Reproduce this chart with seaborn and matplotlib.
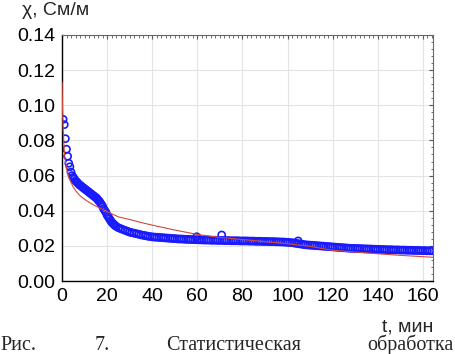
import numpy as np
import pandas as pd
import matplotlib
matplotlib.use("Agg")
import matplotlib.pyplot as plt
from matplotlib.ticker import AutoMinorLocator
import seaborn as sns

t_meas = [0.5, 1.0, 1.5, 2.0, 2.5, 3.0, 3.5, 4.0, 4.5, 5.0, 5.5, 6.0, 6.5, 7.0, 7.5,
          8.0, 8.5, 9.0, 9.5, 10.0, 10.5, 11.0, 11.5, 12.0, 12.5, 13.0, 13.5, 14.0,
          14.5, 15.0, 15.5, 16.0, 16.5, 17.0, 17.5, 18.0, 18.5, 19.0, 19.5, 20.0,
          20.5, 21.0, 21.5, 22.0, 22.5, 23.0, 23.5, 24.0, 25, 26, 27, 28, 29, 30,
          31, 32, 33, 34, 35, 36, 37, 38, 39, 40,
          41, 42, 43, 44, 45, 46, 47, 48, 49, 50,
          51, 52, 53, 54, 55, 56, 57, 58, 59, 60,
          61, 62, 63, 64, 65, 66, 67, 68, 69, 70,
          71, 72, 73, 74, 75, 76, 77, 78, 79, 80,
          81, 82, 83, 84, 85, 86, 87, 88, 89, 90,
          91, 92, 93, 94, 95, 96, 97, 98, 99, 100,
          101, 102, 103, 104, 105, 106, 107, 108, 109, 110,
          111, 112, 113, 114, 115, 116, 117, 118, 119, 120,
          121, 122, 123, 124, 125, 126, 127, 128, 129, 130,
          131, 132, 133, 134, 135, 136, 137, 138, 139, 140,
          141, 142, 143, 144, 145, 146, 147, 148, 149, 150,
          151, 152, 153, 154, 155, 156, 157, 158, 159, 160, 161, 162, 163, 164,
          59.7, 70.8, 104.7]
chi_meas = [0.092, 0.089, 0.081, 0.075, 0.071, 0.067, 0.065, 0.062, 0.060, 0.059,
            0.058, 0.057, 0.0565, 0.0557, 0.055, 0.0545, 0.054, 0.0535, 0.053,
            0.0525, 0.052, 0.0515, 0.051, 0.0505, 0.050, 0.0495, 0.049, 0.0485,
            0.048, 0.0475, 0.047, 0.046, 0.0455, 0.0445, 0.0435, 0.0425, 0.041,
            0.040, 0.039, 0.0375, 0.0365, 0.0355, 0.0345, 0.0335, 0.0328, 0.0322,
            0.0316, 0.0311, 0.0303, 0.0298, 0.0293, 0.0288, 0.0283, 0.0278,
            0.0275, 0.0272, 0.0269, 0.0266, 0.0263, 0.0260, 0.0258, 0.0255, 0.0253, 0.0251,
            0.0250, 0.0249, 0.0248, 0.0247, 0.0246, 0.0245, 0.0244, 0.0243, 0.0242, 0.0241,
            0.0240, 0.0239, 0.0239, 0.0238, 0.0237, 0.0237, 0.0236, 0.0236, 0.0235, 0.0235,
            0.0234, 0.0234, 0.0233, 0.0233, 0.0233, 0.0232, 0.0232, 0.0232, 0.0231, 0.0231,
            0.0231, 0.0230, 0.0230, 0.0230, 0.0229, 0.0229, 0.0229, 0.0229, 0.0228, 0.0228,
            0.0228, 0.0228, 0.0227, 0.0227, 0.0227, 0.0226, 0.0226, 0.0226, 0.0225, 0.0225,
            0.0225, 0.0224, 0.0224, 0.0224, 0.0223, 0.0223, 0.0222, 0.0222, 0.0221, 0.0220,
            0.0219, 0.0218, 0.0216, 0.0214, 0.0212, 0.0210, 0.0208, 0.0206, 0.0205, 0.0204,
            0.0203, 0.0202, 0.0201, 0.0200, 0.0199, 0.0198, 0.0197, 0.0196, 0.0195, 0.0194,
            0.0193, 0.0192, 0.0191, 0.0190, 0.0189, 0.0188, 0.0187, 0.0186, 0.0186, 0.0185,
            0.0185, 0.0184, 0.0184, 0.0183, 0.0183, 0.0182, 0.0182, 0.0181, 0.0181, 0.0180,
            0.0180, 0.0179, 0.0179, 0.0178, 0.0178, 0.0178, 0.0177, 0.0177, 0.0177, 0.0176,
            0.0176, 0.0176, 0.0175, 0.0175, 0.0175, 0.0174, 0.0174, 0.0174, 0.0173, 0.0173,
            0.0173, 0.0172, 0.0172, 0.0172,
            0.0252, 0.0262, 0.0228]

# fitted curve (red line)
t_fit = [0.05, 0.2, 0.5, 1.0, 1.5, 2.0, 3.0, 4.0, 5.0, 6.0, 8.0, 10.0, 13.0, 16.0,
         20.0, 25.0, 30.0, 35.0, 40.0, 50.0, 60.0, 70.0, 80.0, 90.0, 100.0, 110.0,
         120.0, 130.0, 140.0, 150.0, 164.5]
chi_fit = [0.113, 0.100, 0.087, 0.074, 0.068, 0.064, 0.059, 0.056, 0.0535, 0.0515,
           0.0485, 0.0465, 0.044, 0.042, 0.0395, 0.0365, 0.0350, 0.0333, 0.0318,
           0.0290, 0.0265, 0.0248, 0.0236, 0.0224, 0.0212, 0.0197, 0.0175, 0.0165,
           0.0155, 0.0146, 0.0135]

x_ticks = [0, 20, 40, 60, 80, 100, 120, 140, 160]
y_ticks = [0.00, 0.02, 0.04, 0.06, 0.08, 0.10, 0.12, 0.14]

df_meas = pd.DataFrame({"t": t_meas, "chi": chi_meas})
df_fit = pd.DataFrame({"t": t_fit, "chi": chi_fit})

sns.set_style("white")
plt.rcParams["font.family"] = ["Liberation Sans", "DejaVu Sans"]

fig = plt.figure(figsize=(4.55, 3.54), dpi=100)
ax = fig.add_axes([62 / 455, 1 - 281 / 354, (433 - 62) / 455, (281 - 35) / 354])

ax.grid(True, color="#e4e4e4", linewidth=0.8)
ax.set_axisbelow(True)

sns.scatterplot(data=df_meas, x="t", y="chi", ax=ax, marker="o",
                facecolor="none", edgecolor="#1a1aff", s=26, linewidth=1.2,
                zorder=2)
sns.lineplot(data=df_fit, x="t", y="chi", ax=ax, color="#d04a3a",
             linewidth=0.8, estimator=None, sort=True, zorder=3)

ax.set_xlim(0, 164.5)
ax.set_ylim(0, 0.14)
ax.set_xticks(x_ticks)
ax.set_yticks(y_ticks)
ax.set_yticklabels([f"{v:.2f}" for v in y_ticks])
ax.xaxis.set_minor_locator(AutoMinorLocator(10))
ax.yaxis.set_minor_locator(AutoMinorLocator(5))
ax.tick_params(which="both", direction="in", top=True, right=True,
               colors="#555555", labelcolor="black")
ax.tick_params(which="major", length=3, width=0.8, labelsize=14)
ax.tick_params(axis="x", which="major", pad=5)
ax.tick_params(axis="y", which="major", pad=5)
ax.tick_params(which="minor", length=1.8, width=0.6)
ax.set_xlabel("")
ax.set_ylabel("")

for side in ["left", "bottom"]:
    ax.spines[side].set_color("black")
    ax.spines[side].set_linewidth(1.0)
for side in ["top", "right"]:
    ax.spines[side].set_color("#666666")
    ax.spines[side].set_linewidth(0.8)

fig.text(22 / 455, 1 - 2 / 354, "χ, См/м", fontsize=14, ha="left", va="top")
fig.text(433 / 455, 1 - 332 / 354, "t, мин", fontsize=14, ha="right",
         va="baseline")

cap = dict(fontsize=14.5, va="baseline", family=["Liberation Serif", "DejaVu Serif"])
fig.text(0 / 455, 1 - 350 / 354, "Рис.", ha="left", **cap)
fig.text(95 / 455, 1 - 350 / 354, "7.", ha="left", **cap)
fig.text(166 / 455, 1 - 350 / 354, "Статистическая", ha="left", **cap)
fig.text(453 / 455, 1 - 350 / 354, "обработка", ha="right", **cap)

fig.savefig("out.png", dpi=100)
